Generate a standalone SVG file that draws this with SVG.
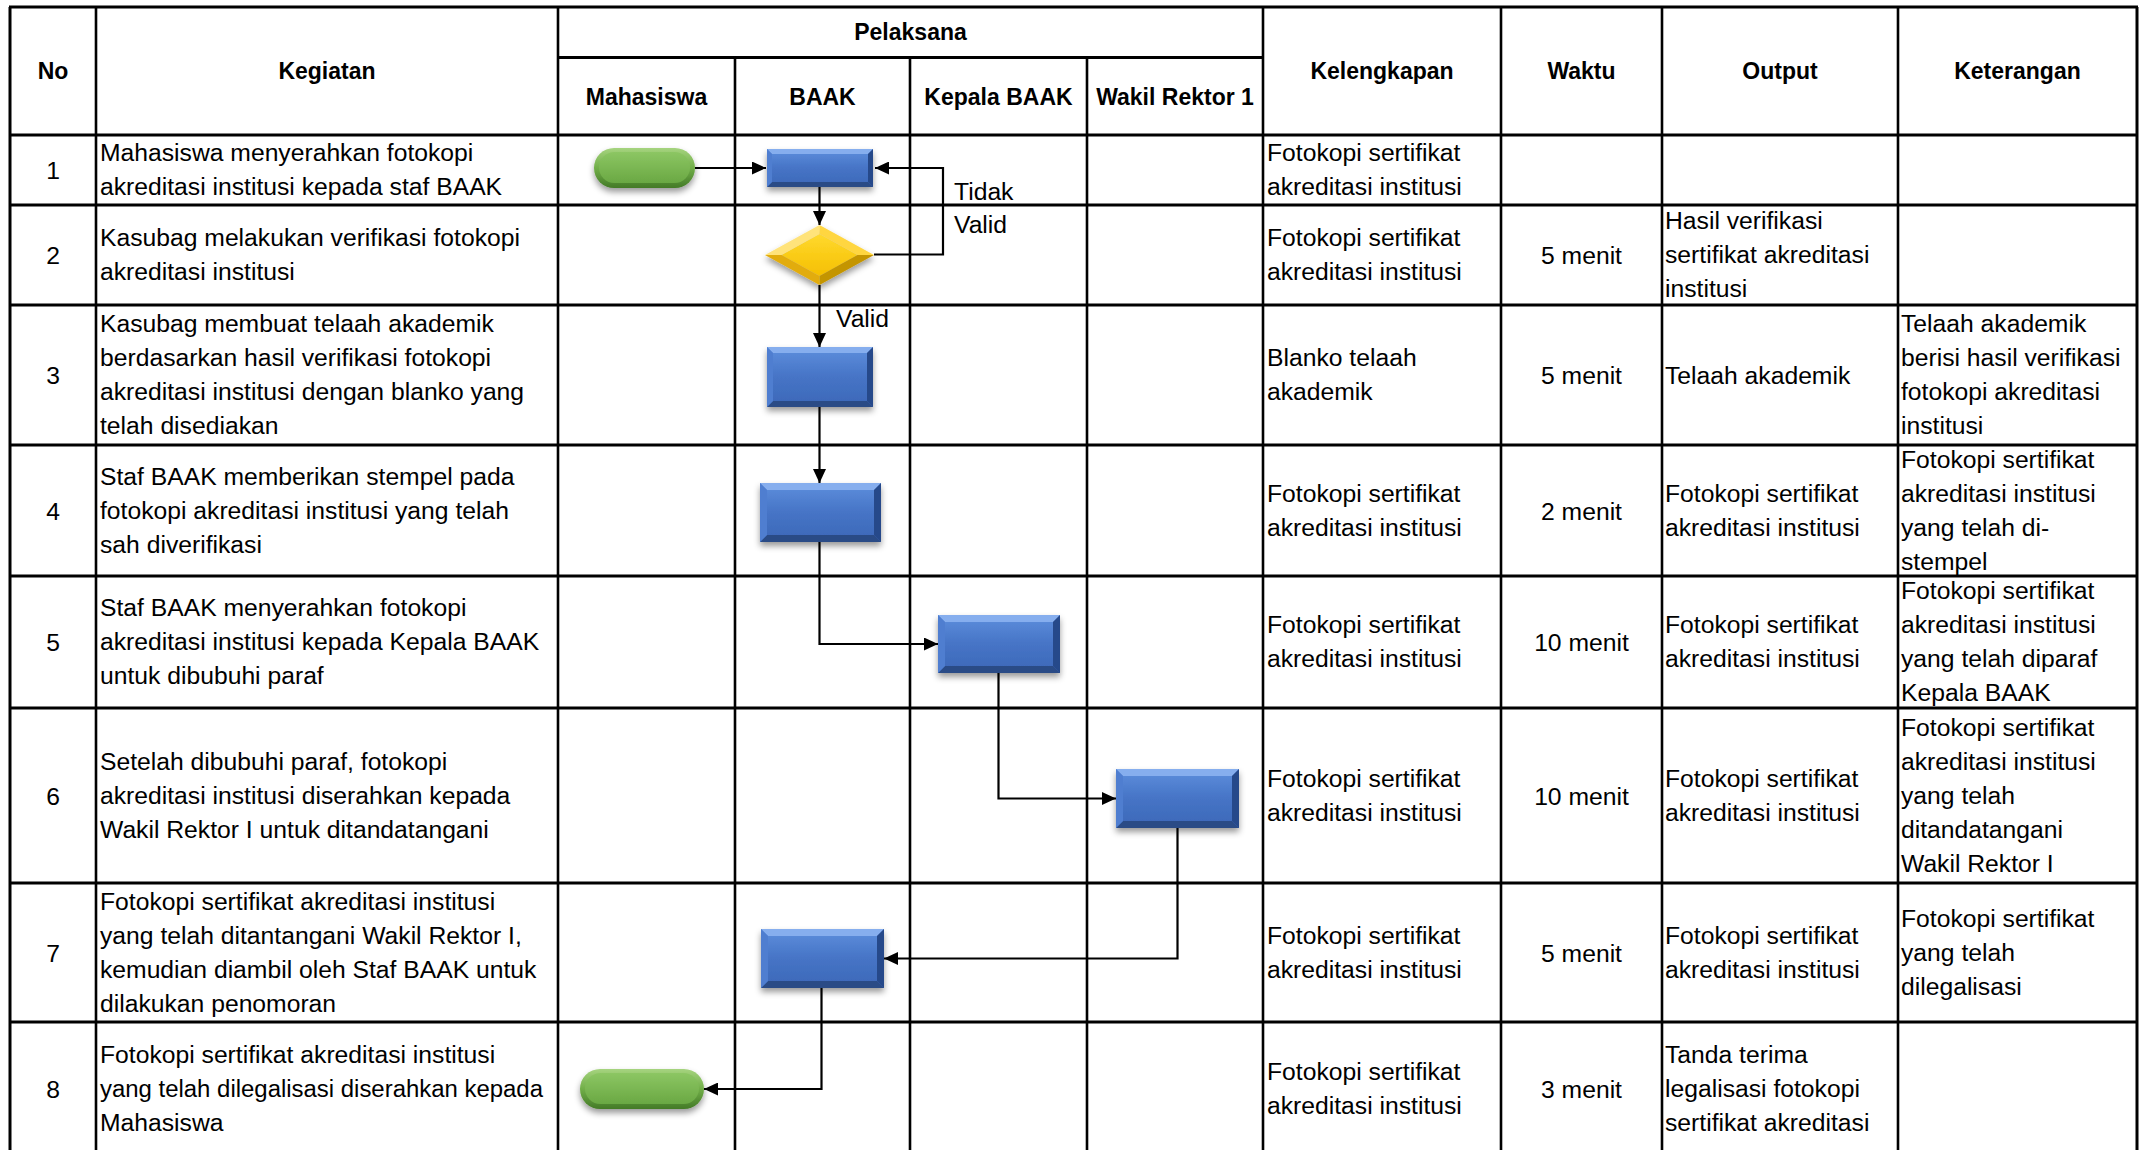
<svg xmlns="http://www.w3.org/2000/svg" width="2146" height="1150" viewBox="0 0 2146 1150">
<style>
.t{font-family:"Liberation Sans",Arial,sans-serif;font-size:24.7px;fill:#000}
.h{font-family:"Liberation Sans",Arial,sans-serif;font-size:23px;font-weight:bold;fill:#000;text-anchor:middle}
.c{text-anchor:middle}
.gh{stroke:#000;stroke-width:3}
.gv{stroke:#000;stroke-width:2.6}
.cn{fill:none;stroke:#000;stroke-width:2.2}
.cna{fill:none;stroke:#000;stroke-width:2.2;marker-end:url(#arr)}
.bf{fill:url(#blueFace)}
.bt{fill:#86AEEE}
.bb{fill:#2B4C86}
.bl{fill:#4F7ED0}
.br{fill:#28498A}
</style>
<defs>
<linearGradient id="blueFace" x1="0" y1="0" x2="0" y2="1">
<stop offset="0" stop-color="#5E8FDD"/>
<stop offset="0.5" stop-color="#4674C6"/>
<stop offset="1" stop-color="#3C68B8"/>
</linearGradient>
<linearGradient id="greenOuter" x1="0" y1="0" x2="0" y2="1">
<stop offset="0" stop-color="#A6D47F"/>
<stop offset="0.5" stop-color="#71AE48"/>
<stop offset="1" stop-color="#437A27"/>
</linearGradient>
<linearGradient id="greenInner" x1="0" y1="0" x2="0" y2="1">
<stop offset="0" stop-color="#8CC663"/>
<stop offset="1" stop-color="#6AA843"/>
</linearGradient>
<linearGradient id="goldFace" x1="0" y1="0" x2="0" y2="1">
<stop offset="0" stop-color="#FFD92E"/>
<stop offset="1" stop-color="#F5BF00"/>
</linearGradient>
<filter id="sh" x="-20%" y="-30%" width="140%" height="170%">
<feDropShadow dx="0" dy="4" stdDeviation="3" flood-color="#000" flood-opacity="0.4"/>
</filter>
<marker id="arr" markerWidth="14" markerHeight="13" refX="14" refY="6.5" orient="auto" markerUnits="userSpaceOnUse">
<path d="M0,0 L14,6.5 L0,13 z" fill="#000"/>
</marker>
</defs>
<rect x="0" y="0" width="2146" height="1150" fill="#fff"/>

<g id="grid">
<line class="gh" x1="9" y1="7" x2="2138" y2="7"/>
<line class="gh" x1="558" y1="57.5" x2="1263" y2="57.5"/>
<line class="gh" x1="9" y1="135" x2="2138" y2="135"/>
<line class="gh" x1="9" y1="205" x2="2138" y2="205"/>
<line class="gh" x1="9" y1="305" x2="2138" y2="305"/>
<line class="gh" x1="9" y1="445" x2="2138" y2="445"/>
<line class="gh" x1="9" y1="576" x2="2138" y2="576"/>
<line class="gh" x1="9" y1="708" x2="2138" y2="708"/>
<line class="gh" x1="9" y1="883" x2="2138" y2="883"/>
<line class="gh" x1="9" y1="1022" x2="2138" y2="1022"/>
<line class="gh" x1="10" y1="7" x2="10" y2="1150"/>
<line class="gv" x1="96" y1="7" x2="96" y2="1150"/>
<line class="gv" x1="558" y1="7" x2="558" y2="1150"/>
<line class="gv" x1="735" y1="57.5" x2="735" y2="1150"/>
<line class="gv" x1="910" y1="57.5" x2="910" y2="1150"/>
<line class="gv" x1="1087" y1="57.5" x2="1087" y2="1150"/>
<line class="gv" x1="1263" y1="7" x2="1263" y2="1150"/>
<line class="gv" x1="1501" y1="7" x2="1501" y2="1150"/>
<line class="gv" x1="1662" y1="7" x2="1662" y2="1150"/>
<line class="gv" x1="1898" y1="7" x2="1898" y2="1150"/>
<line class="gh" x1="2137" y1="7" x2="2137" y2="1150"/>
</g>

<g id="headers">
<text class="h" x="53" y="79">No</text>
<text class="h" x="327" y="79">Kegiatan</text>
<text class="h" x="910.5" y="40">Pelaksana</text>
<text class="h" x="646.5" y="105">Mahasiswa</text>
<text class="h" x="822.5" y="105">BAAK</text>
<text class="h" x="998.5" y="105">Kepala BAAK</text>
<text class="h" x="1175" y="105">Wakil Rektor 1</text>
<text class="h" x="1382" y="79">Kelengkapan</text>
<text class="h" x="1581.5" y="79">Waktu</text>
<text class="h" x="1780" y="79">Output</text>
<text class="h" x="2017.5" y="79">Keterangan</text>
</g>

<g id="connectors">
<line class="cna" x1="695" y1="168" x2="766" y2="168"/>
<line class="cna" x1="819.5" y1="187" x2="819.5" y2="225"/>
<polyline class="cna" points="874,254.5 943,254.5 943,168 875,168"/>
<line class="cna" x1="819.5" y1="285" x2="819.5" y2="347"/>
<line class="cna" x1="819.5" y1="407" x2="819.5" y2="483"/>
<polyline class="cna" points="819.5,542 819.5,644 938,644"/>
<polyline class="cna" points="998.5,673 998.5,798.5 1116,798.5"/>
<polyline class="cna" points="1177.5,828 1177.5,958.5 884,958.5"/>
<polyline class="cna" points="821.5,988 821.5,1089 704,1089"/>
<text class="t" x="954" y="200">Tidak</text>
<text class="t" x="954" y="233">Valid</text>
<text class="t" x="836" y="327">Valid</text>
</g>

<g id="start" filter="url(#sh)">
<rect x="594" y="148" width="101" height="40" rx="20" fill="url(#greenOuter)"/>
<rect x="599" y="152" width="91" height="31" rx="15.5" fill="url(#greenInner)"/>
</g>

<g id="box1" filter="url(#sh)">
<rect class="bf" x="767" y="149" width="106" height="38"/>
<polygon class="bt" points="767,149 873,149 868,154 772,154"/>
<polygon class="bb" points="767,187 873,187 868,182 772,182"/>
<polygon class="bl" points="767,149 772,154 772,182 767,187"/>
<polygon class="br" points="873,149 868,154 868,182 873,187"/>
</g>

<g id="decision" filter="url(#sh)">
<polygon points="781.5,255 819.5,234 857.5,255 819.5,276" fill="url(#goldFace)"/>
<polygon points="765,255 819.5,225 819.5,234 781.5,255" fill="#FFE37A"/>
<polygon points="819.5,225 874,255 857.5,255 819.5,234" fill="#FFD641"/>
<polygon points="874,255 819.5,285 819.5,276 857.5,255" fill="#C49500"/>
<polygon points="819.5,285 765,255 781.5,255 819.5,276" fill="#E2AC0C"/>
</g>

<g id="box3" filter="url(#sh)">
<rect class="bf" x="767" y="347" width="106" height="60"/>
<polygon class="bt" points="767,347 873,347 867,353 773,353"/>
<polygon class="bb" points="767,407 873,407 867,401 773,401"/>
<polygon class="bl" points="767,347 773,353 773,401 767,407"/>
<polygon class="br" points="873,347 867,353 867,401 873,407"/>
</g>

<g id="box4" filter="url(#sh)">
<rect class="bf" x="760" y="483" width="121" height="59"/>
<polygon class="bt" points="760,483 881,483 874,490 767,490"/>
<polygon class="bb" points="760,542 881,542 874,535 767,535"/>
<polygon class="bl" points="760,483 767,490 767,535 760,542"/>
<polygon class="br" points="881,483 874,490 874,535 881,542"/>
</g>

<g id="box5" filter="url(#sh)">
<rect class="bf" x="938" y="615" width="122" height="58"/>
<polygon class="bt" points="938,615 1060,615 1053,622 945,622"/>
<polygon class="bb" points="938,673 1060,673 1053,666 945,666"/>
<polygon class="bl" points="938,615 945,622 945,666 938,673"/>
<polygon class="br" points="1060,615 1053,622 1053,666 1060,673"/>
</g>

<g id="box6" filter="url(#sh)">
<rect class="bf" x="1116" y="769" width="123" height="59"/>
<polygon class="bt" points="1116,769 1239,769 1232,776 1123,776"/>
<polygon class="bb" points="1116,828 1239,828 1232,821 1123,821"/>
<polygon class="bl" points="1116,769 1123,776 1123,821 1116,828"/>
<polygon class="br" points="1239,769 1232,776 1232,821 1239,828"/>
</g>

<g id="box7" filter="url(#sh)">
<rect class="bf" x="761" y="929" width="123" height="59"/>
<polygon class="bt" points="761,929 884,929 877,936 768,936"/>
<polygon class="bb" points="761,988 884,988 877,981 768,981"/>
<polygon class="bl" points="761,929 768,936 768,981 761,988"/>
<polygon class="br" points="884,929 877,936 877,981 884,988"/>
</g>

<g id="end" filter="url(#sh)">
<rect x="580" y="1069" width="124" height="40" rx="20" fill="url(#greenOuter)"/>
<rect x="585" y="1073" width="114" height="31" rx="15.5" fill="url(#greenInner)"/>
</g>

<g id="row1">
<text class="t c" x="53" y="179">1</text>
<text class="t" x="100" y="161">Mahasiswa menyerahkan fotokopi</text>
<text class="t" x="100" y="195">akreditasi institusi kepada staf BAAK</text>
<text class="t" x="1267" y="161">Fotokopi sertifikat</text>
<text class="t" x="1267" y="195">akreditasi institusi</text>
</g>

<g id="row2">
<text class="t c" x="53" y="264">2</text>
<text class="t" x="100" y="246">Kasubag melakukan verifikasi fotokopi</text>
<text class="t" x="100" y="280">akreditasi institusi</text>
<text class="t" x="1267" y="246">Fotokopi sertifikat</text>
<text class="t" x="1267" y="280">akreditasi institusi</text>
<text class="t c" x="1581.5" y="264">5 menit</text>
<text class="t" x="1665" y="229">Hasil verifikasi</text>
<text class="t" x="1665" y="263">sertifikat akreditasi</text>
<text class="t" x="1665" y="297">institusi</text>
</g>

<g id="row3">
<text class="t c" x="53" y="384">3</text>
<text class="t" x="100" y="332">Kasubag membuat telaah akademik</text>
<text class="t" x="100" y="366">berdasarkan hasil verifikasi fotokopi</text>
<text class="t" x="100" y="400">akreditasi institusi dengan blanko yang</text>
<text class="t" x="100" y="434">telah disediakan</text>
<text class="t" x="1267" y="366">Blanko telaah</text>
<text class="t" x="1267" y="400">akademik</text>
<text class="t c" x="1581.5" y="384">5 menit</text>
<text class="t" x="1665" y="384">Telaah akademik</text>
<text class="t" x="1901" y="332">Telaah akademik</text>
<text class="t" x="1901" y="366">berisi hasil verifikasi</text>
<text class="t" x="1901" y="400">fotokopi akreditasi</text>
<text class="t" x="1901" y="434">institusi</text>
</g>

<g id="row4">
<text class="t c" x="53" y="519.5">4</text>
<text class="t" x="100" y="484.5">Staf BAAK memberikan stempel pada</text>
<text class="t" x="100" y="518.5">fotokopi akreditasi institusi yang telah</text>
<text class="t" x="100" y="552.5">sah diverifikasi</text>
<text class="t" x="1267" y="501.5">Fotokopi sertifikat</text>
<text class="t" x="1267" y="535.5">akreditasi institusi</text>
<text class="t c" x="1581.5" y="519.5">2 menit</text>
<text class="t" x="1665" y="501.5">Fotokopi sertifikat</text>
<text class="t" x="1665" y="535.5">akreditasi institusi</text>
<text class="t" x="1901" y="467.5">Fotokopi sertifikat</text>
<text class="t" x="1901" y="501.5">akreditasi institusi</text>
<text class="t" x="1901" y="535.5">yang telah di-</text>
<text class="t" x="1901" y="569.5">stempel</text>
</g>

<g id="row5">
<text class="t c" x="53" y="651">5</text>
<text class="t" x="100" y="616">Staf BAAK menyerahkan fotokopi</text>
<text class="t" x="100" y="650">akreditasi institusi kepada Kepala BAAK</text>
<text class="t" x="100" y="684">untuk dibubuhi paraf</text>
<text class="t" x="1267" y="633">Fotokopi sertifikat</text>
<text class="t" x="1267" y="667">akreditasi institusi</text>
<text class="t c" x="1581.5" y="651">10 menit</text>
<text class="t" x="1665" y="633">Fotokopi sertifikat</text>
<text class="t" x="1665" y="667">akreditasi institusi</text>
<text class="t" x="1901" y="599">Fotokopi sertifikat</text>
<text class="t" x="1901" y="633">akreditasi institusi</text>
<text class="t" x="1901" y="667">yang telah diparaf</text>
<text class="t" x="1901" y="701">Kepala BAAK</text>
</g>

<g id="row6">
<text class="t c" x="53" y="804.5">6</text>
<text class="t" x="100" y="769.5">Setelah dibubuhi paraf, fotokopi</text>
<text class="t" x="100" y="803.5">akreditasi institusi diserahkan kepada</text>
<text class="t" x="100" y="837.5">Wakil Rektor I untuk ditandatangani</text>
<text class="t" x="1267" y="786.5">Fotokopi sertifikat</text>
<text class="t" x="1267" y="820.5">akreditasi institusi</text>
<text class="t c" x="1581.5" y="804.5">10 menit</text>
<text class="t" x="1665" y="786.5">Fotokopi sertifikat</text>
<text class="t" x="1665" y="820.5">akreditasi institusi</text>
<text class="t" x="1901" y="735.5">Fotokopi sertifikat</text>
<text class="t" x="1901" y="769.5">akreditasi institusi</text>
<text class="t" x="1901" y="803.5">yang telah</text>
<text class="t" x="1901" y="837.5">ditandatangani</text>
<text class="t" x="1901" y="871.5">Wakil Rektor I</text>
</g>

<g id="row7">
<text class="t c" x="53" y="961.5">7</text>
<text class="t" x="100" y="909.5">Fotokopi sertifikat akreditasi institusi</text>
<text class="t" x="100" y="943.5">yang telah ditantangani Wakil Rektor I,</text>
<text class="t" x="100" y="977.5">kemudian diambil oleh Staf BAAK untuk</text>
<text class="t" x="100" y="1011.5">dilakukan penomoran</text>
<text class="t" x="1267" y="943.5">Fotokopi sertifikat</text>
<text class="t" x="1267" y="977.5">akreditasi institusi</text>
<text class="t c" x="1581.5" y="961.5">5 menit</text>
<text class="t" x="1665" y="943.5">Fotokopi sertifikat</text>
<text class="t" x="1665" y="977.5">akreditasi institusi</text>
<text class="t" x="1901" y="926.5">Fotokopi sertifikat</text>
<text class="t" x="1901" y="960.5">yang telah</text>
<text class="t" x="1901" y="994.5">dilegalisasi</text>
</g>

<g id="row8">
<text class="t c" x="53" y="1098">8</text>
<text class="t" x="100" y="1063">Fotokopi sertifikat akreditasi institusi</text>
<text class="t" x="100" y="1097" textLength="443" lengthAdjust="spacingAndGlyphs">yang telah dilegalisasi diserahkan kepada</text>
<text class="t" x="100" y="1131">Mahasiswa</text>
<text class="t" x="1267" y="1080">Fotokopi sertifikat</text>
<text class="t" x="1267" y="1114">akreditasi institusi</text>
<text class="t c" x="1581.5" y="1098">3 menit</text>
<text class="t" x="1665" y="1063">Tanda terima</text>
<text class="t" x="1665" y="1097">legalisasi fotokopi</text>
<text class="t" x="1665" y="1131">sertifikat akreditasi</text>
</g>
</svg>
